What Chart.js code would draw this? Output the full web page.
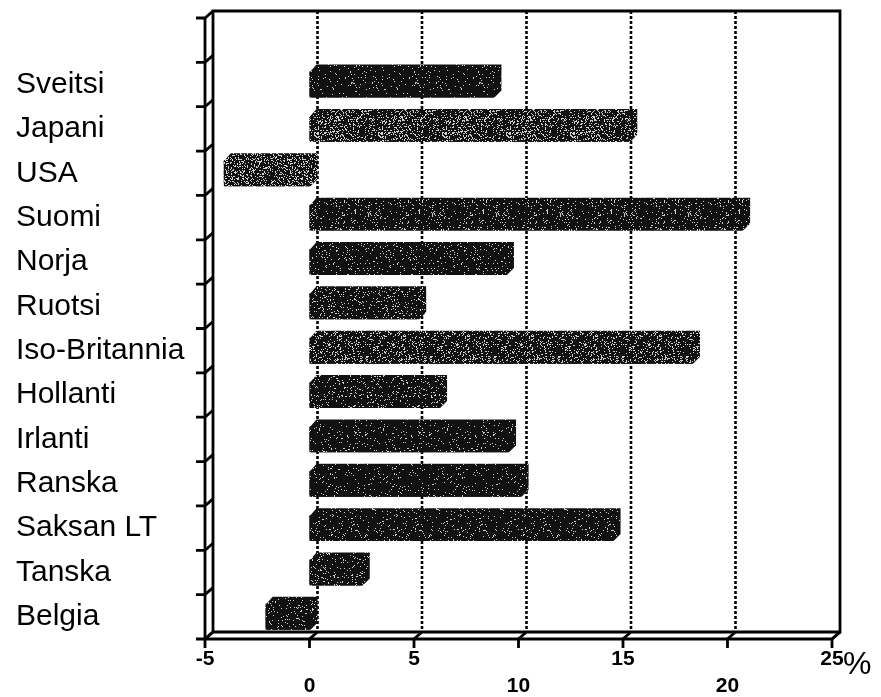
<!DOCTYPE html>
<html>
<head>
<meta charset="utf-8">
<script src="https://cdn.jsdelivr.net/npm/chart.js@4.4.0/dist/chart.umd.min.js"></script>
<style>
  html, body { margin: 0; padding: 0; background: #fff; }
  #wrap { width: 881px; height: 697px; }
</style>
</head>
<body>
<div id="wrap"><canvas id="chart" width="881" height="697"></canvas></div>
<script>
// ---- DATA ----
const categories = ["", "Sveitsi", "Japani", "USA", "Suomi", "Norja", "Ruotsi",
  "Iso-Britannia", "Hollanti", "Irlanti", "Ranska", "Saksan LT", "Tanska", "Belgia"];
const values = [null, 8.8, 15.3, -4.1, 20.7, 9.4, 5.2, 18.3, 6.2, 9.5, 10.1, 14.5, 2.5, -2.1];
const xTickValues = [-5, 0, 5, 10, 15, 20, 25];
const xTickLabels = ["-5", "0", "5", "10", "15", "20", "25"];
const gridValues = [0, 5, 10, 15, 20];
const unitLabel = "%";

// ---- STYLE ----
// share of light speckles in each bar's texture
const speckle = [0, 0.05, 0.20, 0.22, 0.08, 0.06, 0.10, 0.17, 0.09, 0.06, 0.05, 0.06, 0.08, 0.07];
const DX = 8, DY = 7;   // depth of the 3D box
const FONT = "'Liberation Sans', Arial, Helvetica, sans-serif";

function hash(n) {
  n = (n ^ 61) ^ (n >>> 16);
  n = n + (n << 3);
  n = n ^ (n >>> 4);
  n = Math.imul(n, 0x27d4eb2d);
  n = n ^ (n >>> 15);
  return (n >>> 0) / 4294967296;
}

function makePattern(density, seed) {
  const c = document.createElement("canvas");
  c.width = 64; c.height = 64;
  const g = c.getContext("2d");
  g.fillStyle = "#111";
  g.fillRect(0, 0, 64, 64);
  g.fillStyle = "#cfcfcf";
  for (let y = 0; y < 64; y++) {
    for (let x = 0; x < 64; x++) {
      if (hash(x * 7919 + y * 104729 + seed * 15485863) < density) g.fillRect(x, y, 1, 1);
    }
  }
  return g.createPattern(c, "repeat");
}

const patterns = speckle.map((d, i) => makePattern(d, i + 1));

const boxPlugin = {
  id: "box3d",
  beforeDatasetsDraw(chart) {
    const ctx = chart.ctx;
    const xs = chart.scales.x;
    const a = chart.chartArea;
    const step = (a.bottom - a.top) / categories.length;
    ctx.save();
    ctx.strokeStyle = "#000";
    ctx.lineCap = "butt";

    // dotted gridlines on the back wall
    ctx.lineWidth = 2.6;
    ctx.setLineDash([3, 2]);
    gridValues.forEach(v => {
      const px = xs.getPixelForValue(v) + DX;
      ctx.beginPath();
      ctx.moveTo(px, a.top - DY);
      ctx.lineTo(px, a.bottom - DY);
      ctx.stroke();
    });
    ctx.setLineDash([]);

    // frame: back wall + floor + left wall
    ctx.lineWidth = 2.8;
    ctx.lineJoin = "miter";
    ctx.beginPath();
    ctx.moveTo(a.left + DX, a.bottom - DY);
    ctx.lineTo(a.left + DX, a.top - DY);
    ctx.lineTo(a.right + DX, a.top - DY);
    ctx.lineTo(a.right + DX, a.bottom - DY);
    ctx.lineTo(a.left + DX, a.bottom - DY);
    ctx.stroke();

    ctx.beginPath();
    ctx.moveTo(a.left, a.top);
    ctx.lineTo(a.left, a.bottom);
    ctx.lineTo(a.right, a.bottom);
    ctx.lineTo(a.right + DX, a.bottom - DY);
    ctx.stroke();

    // x ticks with floor connectors
    xTickValues.forEach(v => {
      const px = xs.getPixelForValue(v);
      ctx.beginPath();
      ctx.moveTo(px, a.bottom + 9);
      ctx.lineTo(px, a.bottom);
      ctx.lineTo(px + DX, a.bottom - DY);
      ctx.stroke();
    });

    // y ticks between categories with wall connectors
    for (let i = 0; i <= categories.length; i++) {
      const py = a.top + i * step;
      ctx.beginPath();
      ctx.moveTo(a.left - 9, py);
      ctx.lineTo(a.left, py);
      ctx.lineTo(a.left + DX, py - DY);
      ctx.stroke();
    }
    ctx.restore();
  },
  afterDatasetsDraw(chart) {
    const ctx = chart.ctx;
    const meta = chart.getDatasetMeta(0);
    ctx.save();
    meta.data.forEach((el, i) => {
      if (values[i] === null) return;
      const p = el.getProps(["x", "y", "base", "height"], true);
      const L = Math.min(p.x, p.base), R = Math.max(p.x, p.base);
      const T = p.y - p.height / 2, B = p.y + p.height / 2;
      ctx.beginPath();
      ctx.moveTo(L, B - 2);
      ctx.lineTo(L, T + 1);
      ctx.lineTo(L + DX - 1, T - DY);
      ctx.lineTo(R + DX, T - DY);
      ctx.lineTo(R + DX, B - DY);
      ctx.lineTo(R + 1, B);
      ctx.lineTo(L + 2, B);
      ctx.closePath();
      ctx.fillStyle = patterns[i];
      ctx.fill();
    });
    ctx.restore();
  },
  afterDraw(chart) {
    const ctx = chart.ctx;
    const xs = chart.scales.x;
    const a = chart.chartArea;
    ctx.save();
    ctx.fillStyle = "#000";
    ctx.font = "32px " + FONT;
    ctx.textAlign = "left";
    ctx.textBaseline = "alphabetic";
    ctx.fillText(unitLabel, xs.getPixelForValue(25) + 11, a.bottom + 35);
    ctx.restore();
  }
};

new Chart(document.getElementById("chart"), {
  type: "bar",
  data: {
    labels: categories,
    datasets: [{
      data: values,
      backgroundColor: patterns,
      borderWidth: 0,
      barPercentage: 0.585,
      categoryPercentage: 1
    }]
  },
  options: {
    indexAxis: "y",
    responsive: false,
    animation: false,
    layout: { padding: { left: 16, right: 49, top: 18, bottom: 0 } },
    plugins: { legend: { display: false }, tooltip: { enabled: false } },
    scales: {
      x: {
        type: "linear",
        min: -5,
        max: 25,
        afterBuildTicks: scale => { scale.ticks = xTickValues.map(v => ({ value: v })); },
        afterFit: scale => { scale.height = 58; },
        grid: { display: false, drawTicks: false },
        border: { display: false },
        ticks: {
          padding: 7,
          maxRotation: 0,
          autoSkip: false,
          color: "#000",
          font: { family: FONT, size: 21, weight: "bold", lineHeight: 1.28 },
          callback: (v) => {
            const i = xTickValues.indexOf(v);
            return i % 2 === 0 ? [xTickLabels[i], ""] : ["", xTickLabels[i]];
          }
        }
      },
      y: {
        afterFit: scale => { scale.width = 189; },
        grid: { display: false, drawTicks: false },
        border: { display: false },
        ticks: {
          crossAlign: "far",
          padding: 0,
          autoSkip: false,
          color: "#000",
          font: { family: FONT, size: 30 }
        }
      }
    }
  },
  plugins: [boxPlugin]
});
</script>
</body>
</html>
